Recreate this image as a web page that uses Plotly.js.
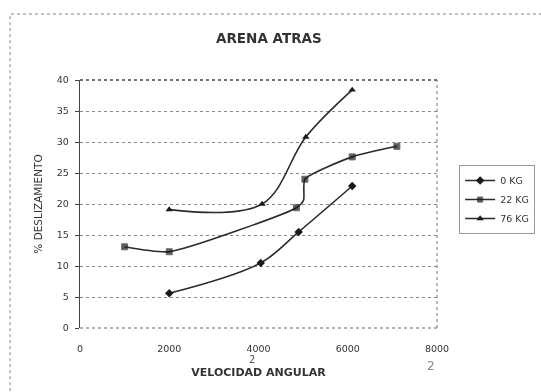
<!DOCTYPE html>
<html>
<head>
<meta charset="utf-8">
<script src="https://cdn.plot.ly/plotly-3.0.1.min.js"></script>
<style>
  html, body { margin: 0; padding: 0; background: #fff; }
  #chart { width: 541px; height: 392px; filter: blur(0.35px); }
</style>
</head>
<body>
<div id="chart"></div>
<script>
// Slip percentage vs. angular velocity, sand, rear load cases
const seriesNames = ['0 KG', '22 KG', '76 KG'];

const x0kg = [2000, 4050, 4900, 6100];
const y0kg = [5.6, 10.5, 15.5, 22.9];

const x22kg = [1000, 2000, 4850, 5010, 5040, 6100, 7100];
const y22kg = [13.1, 12.3, 19.4, 20.6, 24.0, 27.6, 29.3];
// the reading at 5010 sits on the bend and carries no marker
const m22kg = [6, 6, 6, 0, 6, 6, 6];

const x76kg = [2000, 4080, 5060, 6100];
const y76kg = [19.1, 20.0, 30.8, 38.4];

const xTicks = [0, 2000, 4000, 6000, 8000];
const yTicks = [0, 5, 10, 15, 20, 25, 30, 35, 40];

const markerSymbols = ['diamond', 'square', 'triangle-up'];
const markerSizes = [6.5, m22kg, 6.5];
const smooth = [1, 0.55, 1];
const xs = [x0kg, x22kg, x76kg];
const ys = [y0kg, y22kg, y76kg];

const traces = seriesNames.map((name, i) => ({
  type: 'scatter',
  mode: 'lines+markers',
  name: name,
  x: xs[i],
  y: ys[i],
  line: { color: '#2a2a2a', width: 1.6, shape: 'spline', smoothing: smooth[i] },
  marker: { symbol: markerSymbols[i], size: markerSizes[i], color: '#1a1a1a' }
}));

const fam = 'DejaVu Sans, Arial, sans-serif';
const ink = '#2a2a2a';

const layout = {
  width: 541,
  height: 392,
  margin: { l: 80, r: 104, t: 80, b: 64, autoexpand: false },
  paper_bgcolor: '#fff',
  plot_bgcolor: '#fff',
  font: { family: fam, size: 9, color: ink },
  title: {
    text: '<b>ARENA ATRAS</b>',
    font: { family: fam, size: 13.5, color: '#333' },
    x: 0.497, xanchor: 'center',
    y: 0.903, yanchor: 'middle'
  },
  xaxis: {
    range: [0, 8000],
    tickvals: xTicks,
    ticktext: xTicks.map(String),
    showgrid: false,
    zeroline: false,
    showline: false,
    ticks: '',
    ticklabelstandoff: 13,
    tickfont: { family: fam, size: 9.5, color: '#333' },
    title: {
      text: '<b>VELOCIDAD ANGULAR</b>',
      font: { family: fam, size: 11, color: '#333' },
      standoff: 15
    }
  },
  yaxis: {
    range: [0, 40],
    tickvals: yTicks,
    ticktext: yTicks.map(String),
    showgrid: true,
    gridcolor: '#8a8a8a',
    griddash: 'dot',
    gridwidth: 1,
    zeroline: false,
    showline: true,
    linecolor: '#444',
    linewidth: 1.2,
    ticks: 'outside',
    ticklen: 4,
    tickcolor: '#444',
    ticklabelstandoff: 4,
    tickfont: { family: fam, size: 9.5, color: '#333' },
    title: {
      text: '% DESLIZAMIENTO',
      font: { family: fam, size: 10.5, color: '#333' },
      standoff: 12
    }
  },
  legend: {
    x: 1.062, xanchor: 'left',
    y: 0.657, yanchor: 'top',
    bgcolor: '#fff',
    bordercolor: '#999',
    borderwidth: 1,
    font: { family: fam, size: 9.5, color: '#333' },
    tracegroupgap: 2,
    itemwidth: 30
  },
  shapes: [
    // plot frame (top, right and bottom, dotted)
    { type: 'line', xref: 'paper', yref: 'paper', x0: 0, x1: 1, y0: 1, y1: 1,
      line: { color: '#444', width: 1.4, dash: 'dot' } },
    { type: 'line', xref: 'paper', yref: 'paper', x0: 1, x1: 1, y0: 0, y1: 1,
      line: { color: '#777', width: 1, dash: 'dot' } },
    { type: 'line', xref: 'paper', yref: 'paper', x0: 0, x1: 1, y0: 0, y1: 0,
      line: { color: '#666', width: 1.2, dash: 'dot' } },
    // outer chart border
    { type: 'rect', xref: 'paper', yref: 'paper', x0: -0.196, x1: 1.4, y0: -0.3, y1: 1.266,
      line: { color: '#888', width: 1, dash: 'dot' } }
  ],
  annotations: [
    { text: '2', xref: 'paper', yref: 'paper', x: 1.0, y: -0.155, yanchor: 'middle', showarrow: false,
      font: { family: 'DejaVu Sans', size: 12, color: '#888' } },
    { text: '2', xref: 'paper', yref: 'paper', x: 0.482, y: -0.127, yanchor: 'middle', showarrow: false,
      font: { family: 'DejaVu Sans', size: 10, color: '#555' } }
  ]
};

Plotly.newPlot('chart', traces, layout, { displayModeBar: false, staticPlot: true });
</script>
</body>
</html>
